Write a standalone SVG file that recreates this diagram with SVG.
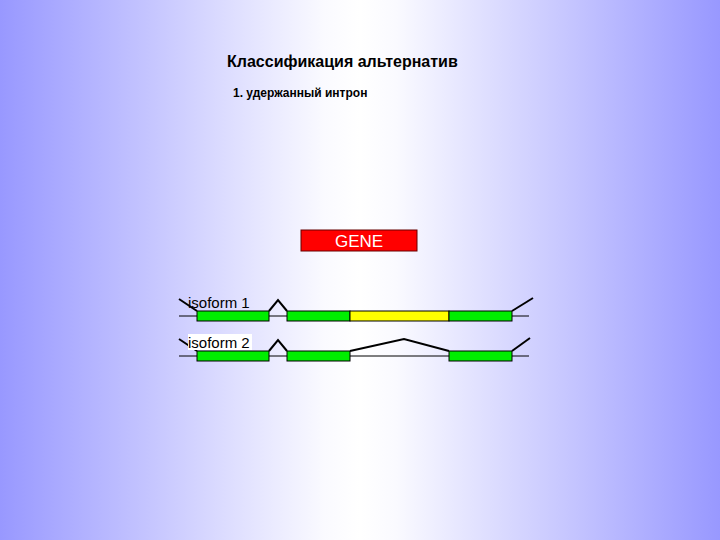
<svg xmlns="http://www.w3.org/2000/svg" width="720" height="540" viewBox="0 0 720 540">
<defs>
<linearGradient id="bg" x1="0" y1="0" x2="1" y2="0">
<stop offset="0" stop-color="#9898ff"/>
<stop offset="0.45" stop-color="#fafaff"/>
<stop offset="0.5" stop-color="#ffffff"/>
<stop offset="0.55" stop-color="#fafaff"/>
<stop offset="1" stop-color="#9898ff"/>
</linearGradient>
<style>
.t{font-family:"Liberation Sans",Arial,sans-serif;fill:#000}
.ex{stroke:#000;stroke-width:1}
.g{fill:#00ee00}
.y{fill:#ffff00}
.ln{stroke:#000;stroke-width:1;fill:none}
.sp{stroke:#000;stroke-width:2;fill:none}
</style>
</defs>
<rect x="0" y="0" width="720" height="540" fill="url(#bg)"/>
<text class="t" x="227" y="67" font-size="16" font-weight="bold">Классификация альтернатив</text>
<text class="t" x="233" y="97" font-size="12" font-weight="bold">1. удержанный интрон</text>
<g id="gene">
<rect x="301" y="230" width="116" height="21" fill="#ff0000" stroke="#600" stroke-width="1"/>
<text x="359" y="247" font-size="17" text-anchor="middle" font-family="Liberation Sans,Arial,sans-serif" fill="#fff">GENE</text>
</g>
<g id="connectors">
<line class="ln" x1="179" y1="316" x2="529" y2="316"/>
<line class="ln" x1="179" y1="356" x2="529" y2="356"/>
<polyline class="sp" points="179,299 197,311"/>
<polyline class="sp" points="269,311 278,300 287,311"/>
<polyline class="sp" points="512,311 533,298"/>
<polyline class="sp" points="179,339 197,351"/>
<polyline class="sp" points="269,351 278,340 287,351"/>
<polyline class="sp" points="350,351 404,339 449,351"/>
<polyline class="sp" points="512,351 530,338"/>
</g>
<g id="isoform1">
<text class="t" x="188" y="308" font-size="15">isoform 1</text>
<rect class="ex g" x="197" y="311" width="72" height="10"/>
<rect class="ex g" x="287" y="311" width="63" height="10"/>
<rect class="ex y" x="350" y="311" width="99" height="10"/>
<rect class="ex g" x="449" y="311" width="63" height="10"/>
</g>
<g id="isoform2">
<rect x="188" y="334" width="64" height="16" fill="#fff"/>
<text class="t" x="188" y="348" font-size="15">isoform 2</text>
<rect class="ex g" x="197" y="351" width="72" height="10"/>
<rect class="ex g" x="287" y="351" width="63" height="10"/>
<rect class="ex g" x="449" y="351" width="63" height="10"/>
</g>
</svg>
